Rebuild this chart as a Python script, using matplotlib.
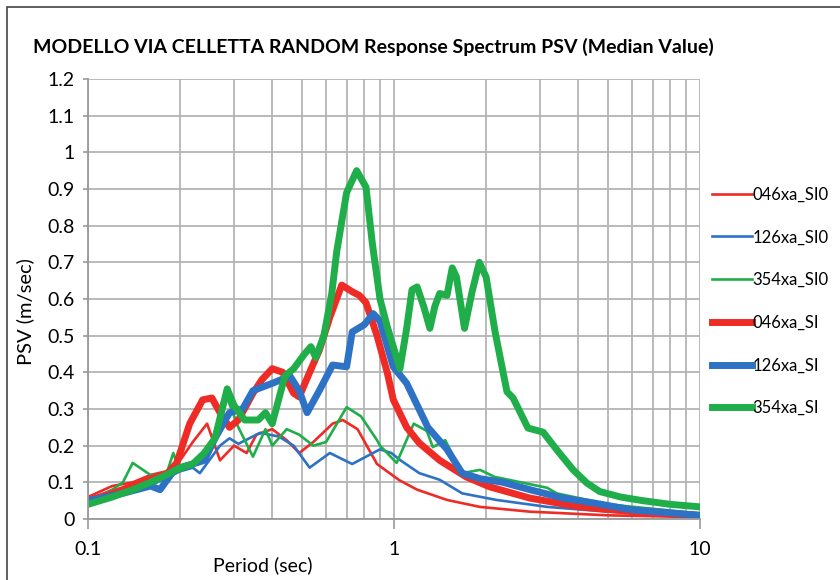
import numpy as np
import matplotlib
matplotlib.use("Agg")
import matplotlib.pyplot as plt
from matplotlib.patches import Rectangle
from matplotlib.ticker import FixedLocator, NullFormatter

plt.rcParams['font.family'] = ['Lato', 'DejaVu Sans']

# series: period (sec) and PSV (m/sec)
t_046_si0 = [0.1, 0.12, 0.14, 0.16, 0.18, 0.2, 0.22, 0.245, 0.27, 0.30, 0.33, 0.355, 0.40,
             0.446, 0.49, 0.545, 0.63, 0.68, 0.76, 0.88, 1.04, 1.19, 1.49, 1.91, 2.78, 5.0, 10.0]
v_046_si0 = [0.06, 0.09, 0.10, 0.12, 0.13, 0.16, 0.21, 0.26, 0.16, 0.20, 0.18, 0.23, 0.245,
             0.215, 0.18, 0.21, 0.26, 0.27, 0.245, 0.15, 0.106, 0.08, 0.052, 0.033, 0.02, 0.01, 0.005]

t_126_si0 = [0.1, 0.15, 0.2, 0.22, 0.232, 0.27, 0.29, 0.31, 0.365, 0.42, 0.47, 0.53, 0.617,
             0.73, 0.90, 0.98, 1.05, 1.21, 1.41, 1.67, 2.16, 3.17, 5.0, 10.0]
v_126_si0 = [0.05, 0.08, 0.13, 0.14, 0.125, 0.20, 0.22, 0.205, 0.235, 0.225, 0.20, 0.14, 0.18,
             0.15, 0.19, 0.18, 0.16, 0.125, 0.107, 0.07, 0.052, 0.033, 0.02, 0.01]

t_354_si0 = [0.1, 0.12, 0.13, 0.14, 0.16, 0.18, 0.19, 0.2, 0.22, 0.25, 0.285, 0.31, 0.346,
             0.38, 0.40, 0.446, 0.49, 0.545, 0.60, 0.70, 0.78, 0.88, 0.9, 1.02, 1.16, 1.28,
             1.34, 1.47, 1.67, 1.91, 2.13, 3.17, 3.4, 5.0, 10.0]
v_354_si0 = [0.05, 0.08, 0.10, 0.153, 0.12, 0.12, 0.18, 0.13, 0.15, 0.20, 0.33, 0.25, 0.17,
             0.245, 0.20, 0.245, 0.23, 0.20, 0.21, 0.305, 0.28, 0.215, 0.20, 0.153, 0.26, 0.24,
             0.196, 0.215, 0.125, 0.134, 0.115, 0.085, 0.07, 0.04, 0.015]

t_046_si = [0.1, 0.12, 0.14, 0.16, 0.18, 0.195, 0.215, 0.237, 0.254, 0.27, 0.29, 0.31, 0.346,
            0.37, 0.40, 0.433, 0.47, 0.49, 0.53, 0.57, 0.617, 0.675, 0.73, 0.77, 0.81, 0.88,
            0.95, 0.995, 1.10, 1.21, 1.41, 1.72, 2.05, 2.78, 4.05, 6.0, 10.0]
v_046_si = [0.05, 0.07, 0.09, 0.11, 0.12, 0.153, 0.26, 0.325, 0.33, 0.29, 0.25, 0.27, 0.343,
            0.38, 0.41, 0.40, 0.343, 0.333, 0.40, 0.46, 0.55, 0.638, 0.62, 0.61, 0.59, 0.50,
            0.40, 0.325, 0.25, 0.207, 0.16, 0.115, 0.088, 0.057, 0.033, 0.02, 0.01]

t_126_si = [0.1, 0.13, 0.16, 0.172, 0.19, 0.2, 0.22, 0.24, 0.26, 0.29, 0.32, 0.346, 0.40,
            0.457, 0.49, 0.52, 0.57, 0.63, 0.70, 0.73, 0.80, 0.855, 0.90, 0.995, 1.10, 1.29,
            1.49, 1.67, 1.91, 2.27, 2.78, 3.57, 4.47, 6.0, 10.0]
v_126_si = [0.05, 0.07, 0.09, 0.08, 0.13, 0.14, 0.15, 0.16, 0.22, 0.29, 0.30, 0.35, 0.37,
            0.39, 0.35, 0.29, 0.35, 0.42, 0.415, 0.51, 0.53, 0.56, 0.54, 0.415, 0.37, 0.25,
            0.19, 0.125, 0.11, 0.10, 0.08, 0.057, 0.044, 0.025, 0.01]

t_354_si = [0.1, 0.12, 0.14, 0.16, 0.18, 0.2, 0.22, 0.24, 0.26, 0.285, 0.30, 0.325, 0.36,
            0.38, 0.40, 0.44, 0.47, 0.51, 0.535, 0.555, 0.59, 0.626, 0.65, 0.70, 0.755, 0.81,
            0.85, 0.90, 0.95, 1.046, 1.10, 1.145, 1.19, 1.25, 1.31, 1.36, 1.41, 1.49, 1.55,
            1.60, 1.70, 1.80, 1.90, 2.0, 2.14, 2.34, 2.45, 2.74, 3.07, 3.41, 3.85, 4.27, 4.7,
            5.5, 6.5, 8.0, 10.0]
v_354_si = [0.04, 0.06, 0.08, 0.10, 0.12, 0.14, 0.15, 0.18, 0.22, 0.355, 0.31, 0.27, 0.27,
            0.29, 0.26, 0.39, 0.41, 0.45, 0.47, 0.44, 0.50, 0.615, 0.73, 0.89, 0.95, 0.905,
            0.75, 0.60, 0.525, 0.41, 0.52, 0.625, 0.633, 0.58, 0.52, 0.58, 0.615, 0.61, 0.685,
            0.66, 0.52, 0.62, 0.70, 0.66, 0.51, 0.347, 0.33, 0.248, 0.237, 0.188, 0.134, 0.098,
            0.075, 0.06, 0.05, 0.04, 0.033]

y_ticks = [0, 0.1, 0.2, 0.3, 0.4, 0.5, 0.6, 0.7, 0.8, 0.9, 1, 1.1, 1.2]
y_labels = ['0', '0.1', '0.2', '0.3', '0.4', '0.5', '0.6', '0.7', '0.8', '0.9', '1', '1.1', '1.2']

red = '#ee2b25'
blue = '#2d72c4'
green = '#1fae4a'

fig = plt.figure(figsize=(8.4, 5.8), dpi=100)
ax = fig.add_axes([88 / 840, 1 - 519 / 580, (700 - 88) / 840, (519 - 79) / 580])

# thin lines first, thick on top (series order)
ax.plot(t_046_si0, v_046_si0, color=red, lw=1.9, label='046xa_SI0')
ax.plot(t_126_si0, v_126_si0, color=blue, lw=1.9, label='126xa_SI0')
ax.plot(t_354_si0, v_354_si0, color=green, lw=1.9, label='354xa_SI0')
ax.plot(t_046_si, v_046_si, color=red, lw=5, label='046xa_SI', solid_joinstyle='round')
ax.plot(t_126_si, v_126_si, color=blue, lw=5, label='126xa_SI', solid_joinstyle='round')
ax.plot(t_354_si, v_354_si, color=green, lw=5, label='354xa_SI', solid_joinstyle='round')

ax.set_xscale('log')
ax.set_xlim(0.1, 10)
ax.set_ylim(0, 1.2)
ax.set_yticks(y_ticks)
ax.set_yticklabels(y_labels)
ax.set_xticks([0.1, 1, 10])
ax.set_xticklabels(['0.1', '1', '10'])
minors = [m * d for d in (0.1, 1) for m in range(2, 10)]
ax.xaxis.set_minor_locator(FixedLocator(minors))
ax.xaxis.set_minor_formatter(NullFormatter())
ax.tick_params(axis='x', which='minor', length=0)
ax.tick_params(axis='x', which='major', length=7, color='#999999', width=1.2,
               labelsize=14, pad=9)
ax.tick_params(axis='y', length=3.6, color='#999999', width=1.2, labelsize=14, pad=6)

ax.grid(True, which='both', color='#b4b4b4', lw=1.3)
ax.set_axisbelow(True)
for s in ['top', 'right']:
    ax.spines[s].set_visible(False)
for s in ['left', 'bottom']:
    ax.spines[s].set_color('#999999')
    ax.spines[s].set_linewidth(1.3)

ax.set_ylabel('PSV (m/sec)', fontsize=14.5)
ax.yaxis.set_label_coords(-0.088, (519 - 312) / 440)
ax.set_xlabel('Period (sec)', fontsize=14)
ax.xaxis.set_label_coords((263 - 88) / 612, -0.085)

fig.text(373 / 840, 1 - 47 / 580, 'MODELLO VIA CELLETTA RANDOM Response Spectrum PSV (Median Value)',
         ha='center', va='center', fontsize=14, fontweight='bold')

ax.legend(loc='upper left', bbox_to_anchor=(705 / 840, 1 - 180 / 580),
          bbox_transform=fig.transFigure, frameon=False, fontsize=12,
          handlelength=2.4, handletextpad=0.05, labelspacing=1.6, borderaxespad=0)

fig.patches.append(Rectangle((7 / 840, -0.01), 1.0, 1 - 7 / 580 + 0.01,
                             transform=fig.transFigure, fill=False, ec='#444444', lw=1.2))

fig.savefig('out.png', dpi=100)
